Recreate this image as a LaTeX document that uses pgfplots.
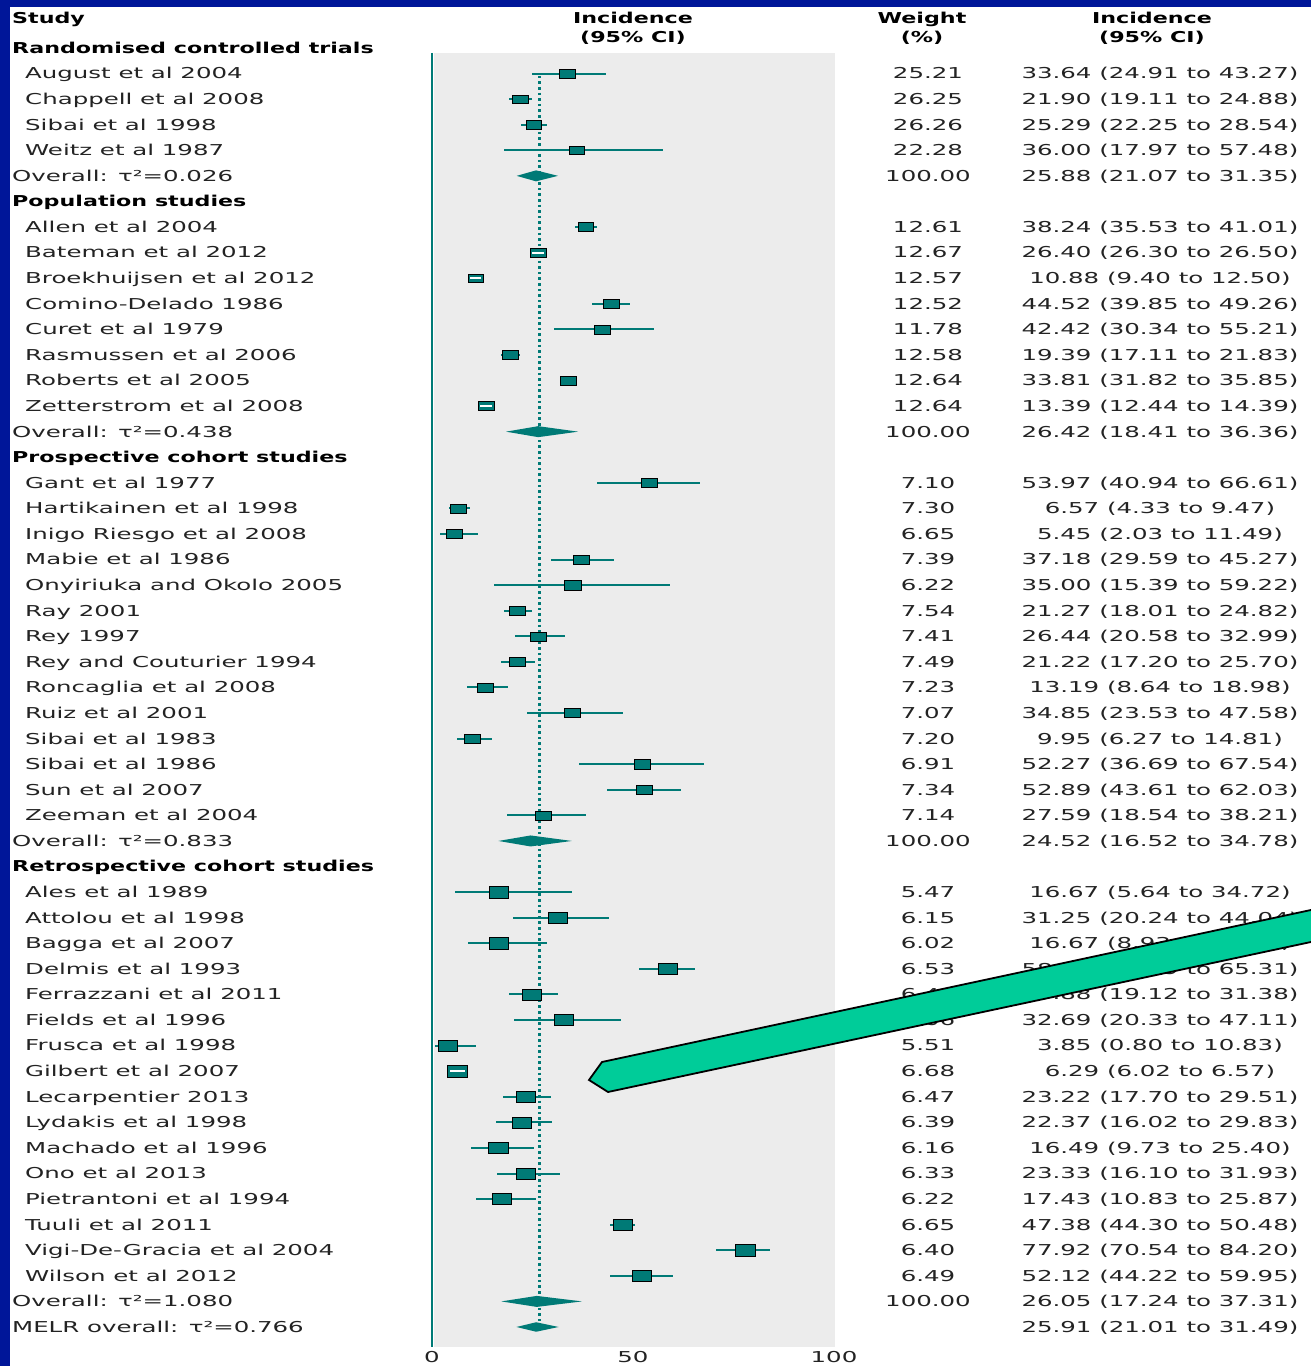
\documentclass[border=0pt]{standalone}
\usepackage{pgfplots}
\pgfplotsset{compat=1.18}
\usepackage{pgfplotstable}
\usepackage{fontspec}
\setmainfont{DejaVu Sans}[FakeStretch=1.63]
\newfontfamily\bodyfont{DejaVu Sans}[FakeStretch=1.63]
\newfontfamily\headfont{DejaVu Sans Bold}[FakeStretch=1.48]
\newcommand{\fs}{\fontsize{15bp}{18bp}\selectfont}
\definecolor{tealc}{RGB}{0,122,118}
\definecolor{bgblue}{RGB}{0,22,153}
\definecolor{plotgray}{RGB}{236,236,236}
\definecolor{arrowgreen}{RGB}{0,204,153}
\definecolor{txt}{RGB}{35,35,35}

% row index (negative), estimate, lower and upper 95% CI
\pgfplotstableread{
y est lo hi
-1 33.64 24.91 43.27
-2 21.90 19.11 24.88
-3 25.29 22.25 28.54
-4 36.00 17.97 57.48
}\rct
\pgfplotstableread{
y est lo hi
-7 38.24 35.53 41.01
-8 26.40 26.30 26.50
-9 10.88 9.40 12.50
-10 44.52 39.85 49.26
-11 42.42 30.34 55.21
-12 19.39 17.11 21.83
-13 33.81 31.82 35.85
-14 13.39 12.44 14.39
}\pop
\pgfplotstableread{
y est lo hi
-17 53.97 40.94 66.61
-18 6.57 4.33 9.47
-19 5.45 2.03 11.49
-20 37.18 29.59 45.27
-21 35.00 15.39 59.22
-22 21.27 18.01 24.82
-23 26.44 20.58 32.99
-24 21.22 17.20 25.70
-25 13.19 8.64 18.98
-26 34.85 23.53 47.58
-27 9.95 6.27 14.81
-28 52.27 36.69 67.54
-29 52.89 43.61 62.03
-30 27.59 18.54 38.21
}\pro
\pgfplotstableread{
y est lo hi
-33 16.67 5.64 34.72
-34 31.25 20.24 44.04
-35 16.67 8.93 28.56
-36 58.62 51.59 65.31
-37 24.88 19.12 31.38
-38 32.69 20.33 47.11
-39 3.85 0.80 10.83
-40 6.29 6.02 6.57
-41 23.22 17.70 29.51
-42 22.37 16.02 29.83
-43 16.49 9.73 25.40
-44 23.33 16.10 31.93
-45 17.43 10.83 25.87
-46 47.38 44.30 50.48
-47 77.92 70.54 84.20
-48 52.12 44.22 59.95
}\ret
\pgfplotstableread{
y est
-8 26.40
-9 10.88
-14 13.39
}\narrowpop
\pgfplotstableread{
y est
-40 6.29
}\narrowret

\newcommand{\srow}[4]{%
\node[anchor=base west,font=\bodyfont\fs,text=txt,inner sep=0pt] at (axis cs:-101.24,{-#1-0.21}) {#2};
\node[anchor=base,font=\bodyfont\fs,text=txt,inner sep=0pt] at (axis cs:123.38,{-#1-0.21}) {#3};
\node[anchor=base,font=\bodyfont\fs,text=txt,inner sep=0pt] at (axis cs:181.09,{-#1-0.21}) {#4};}
\newcommand{\orow}[4]{%
\node[anchor=base west,font=\bodyfont\fs,text=txt,inner sep=0pt] at (axis cs:-104.48,{-#1-0.21}) {#2};
\node[anchor=base,font=\bodyfont\fs,text=txt,inner sep=0pt] at (axis cs:123.38,{-#1-0.21}) {#3};
\node[anchor=base,font=\bodyfont\fs,text=txt,inner sep=0pt] at (axis cs:181.09,{-#1-0.21}) {#4};}
\newcommand{\ghead}[2]{%
\node[anchor=base west,font=\headfont\fs,text=black,inner sep=0pt] at (axis cs:-104.48,{-#1-0.21}) {#2};}

\begin{document}
\begin{tikzpicture}[x=1bp,y=1bp]
\useasboundingbox (0,0) rectangle (1311,1366);
\fill[bgblue] (0,0) rectangle (1311,1366);
\fill[white] (10,0) rectangle (1311,1359);
\begin{axis}[
  at={(0,0)}, anchor=south west,
  scale only axis, width=1311bp, height=1366bp,
  xmin=-107.46, xmax=218.66, ymin=-51.525, ymax=1.8765,
  axis x line=bottom, axis y line=none,
  x axis line style={draw=none},
  xtick={0,50,100}, ytick=\empty,
  major tick length=0pt, xtick style={draw=none},
  xticklabel style={font=\bodyfont\fs, text=txt, anchor=base, yshift=3bp, inner sep=0pt},
  /pgf/number format/assume math mode=true,
  clip=false,
  every error bar/.append style={line width=2bp},
]
% grey panel and reference lines
\fill[plotgray] (axis cs:0.4,-0.195) rectangle (axis cs:100.2,-50.78);
\addplot[tealc, line width=2.4bp, forget plot] coordinates {(0,-0.195) (0,-50.78)};
\addplot[tealc, line width=2.8bp, dash pattern=on 2.6bp off 3bp, forget plot] coordinates {(26.7,-1.09) (26.7,-49.75)};

% confidence intervals
\pgfplotsset{cistyle/.style={only marks, mark=none, forget plot, line width=2bp,
  error bars/.cd, x dir=both, x explicit, error mark=none,
  error bar style={draw=tealc, line width=2bp, solid}}}
\addplot[cistyle] table[x=est, y=y, x error plus expr=\thisrow{hi}-\thisrow{est}, x error minus expr=\thisrow{est}-\thisrow{lo}] {\rct};
\addplot[cistyle] table[x=est, y=y, x error plus expr=\thisrow{hi}-\thisrow{est}, x error minus expr=\thisrow{est}-\thisrow{lo}] {\pop};
\addplot[cistyle] table[x=est, y=y, x error plus expr=\thisrow{hi}-\thisrow{est}, x error minus expr=\thisrow{est}-\thisrow{lo}] {\pro};
\addplot[cistyle] table[x=est, y=y, x error plus expr=\thisrow{hi}-\thisrow{est}, x error minus expr=\thisrow{est}-\thisrow{lo}] {\ret};

% weight boxes
\addplot[only marks, mark=square*, mark size=4.3bp, mark options={xscale=1.8, fill=tealc, draw=none}, forget plot] table[x=est, y=y] {\rct};
\addplot[only marks, mark=square*, mark size=4.4bp, mark options={xscale=1.8, fill=tealc, draw=none}, forget plot] table[x=est, y=y] {\pop};
\addplot[only marks, mark=square*, mark size=4.6bp, mark options={xscale=1.75, fill=tealc, draw=none}, forget plot] table[x=est, y=y] {\pro};
\addplot[only marks, mark=square*, mark size=5.6bp, mark options={xscale=1.72, fill=tealc, draw=none}, forget plot] table[x=est, y=y] {\ret};
\addplot[only marks, mark=-, mark size=3.2bp, mark options={xscale=1.8, draw=white, line width=2bp}, forget plot] table[x=est, y=y] {\narrowpop};
\addplot[only marks, mark=-, mark size=4.2bp, mark options={xscale=1.72, draw=white, line width=2.2bp}, forget plot] table[x=est, y=y] {\narrowret};

% pooled diamonds
\addplot[fill=tealc, draw=none, forget plot] coordinates {(21.07,-5) (25.88,-4.785) (31.35,-5) (25.88,-5.215)} --cycle;
\addplot[fill=tealc, draw=none, forget plot] coordinates {(18.41,-15) (26.42,-14.785) (36.36,-15) (26.42,-15.215)} --cycle;
\addplot[fill=tealc, draw=none, forget plot] coordinates {(16.52,-31) (24.52,-30.785) (34.78,-31) (24.52,-31.215)} --cycle;
\addplot[fill=tealc, draw=none, forget plot] coordinates {(17.24,-49) (26.05,-48.785) (37.31,-49) (26.05,-49.215)} --cycle;
\addplot[fill=tealc, draw=none, forget plot] coordinates {(21.01,-50) (25.91,-49.814) (31.49,-50) (25.91,-50.186)} --cycle;

% column headers
\node[anchor=base west,font=\headfont\fs,inner sep=0pt] at (axis cs:-104.48,0.938) {Study};
\node[anchor=base,font=\headfont\fs,inner sep=0pt] at (axis cs:50,0.938) {Incidence};
\node[anchor=base,font=\headfont\fs,inner sep=0pt] at (axis cs:50,0.21) {(95\% CI)};
\node[anchor=base,font=\headfont\fs,inner sep=0pt] at (axis cs:121.9,0.938) {Weight};
\node[anchor=base,font=\headfont\fs,inner sep=0pt] at (axis cs:121.9,0.21) {(\%)};
\node[anchor=base,font=\headfont\fs,inner sep=0pt] at (axis cs:179.1,0.938) {Incidence};
\node[anchor=base,font=\headfont\fs,inner sep=0pt] at (axis cs:179.1,0.21) {(95\% CI)};

\ghead{0}{Randomised controlled trials}
\srow{1}{August et al 2004}{25.21}{33.64 (24.91 to 43.27)}
\srow{2}{Chappell et al 2008}{26.25}{21.90 (19.11 to 24.88)}
\srow{3}{Sibai et al 1998}{26.26}{25.29 (22.25 to 28.54)}
\srow{4}{Weitz et al 1987}{22.28}{36.00 (17.97 to 57.48)}
\orow{5}{Overall: τ²=0.026}{100.00}{25.88 (21.07 to 31.35)}
\ghead{6}{Population studies}
\srow{7}{Allen et al 2004}{12.61}{38.24 (35.53 to 41.01)}
\srow{8}{Bateman et al 2012}{12.67}{26.40 (26.30 to 26.50)}
\srow{9}{Broekhuijsen et al 2012}{12.57}{10.88 (9.40 to 12.50)}
\srow{10}{Comino-Delado 1986}{12.52}{44.52 (39.85 to 49.26)}
\srow{11}{Curet et al 1979}{11.78}{42.42 (30.34 to 55.21)}
\srow{12}{Rasmussen et al 2006}{12.58}{19.39 (17.11 to 21.83)}
\srow{13}{Roberts et al 2005}{12.64}{33.81 (31.82 to 35.85)}
\srow{14}{Zetterstrom et al 2008}{12.64}{13.39 (12.44 to 14.39)}
\orow{15}{Overall: τ²=0.438}{100.00}{26.42 (18.41 to 36.36)}
\ghead{16}{Prospective cohort studies}
\srow{17}{Gant et al 1977}{7.10}{53.97 (40.94 to 66.61)}
\srow{18}{Hartikainen et al 1998}{7.30}{6.57 (4.33 to 9.47)}
\srow{19}{Inigo Riesgo et al 2008}{6.65}{5.45 (2.03 to 11.49)}
\srow{20}{Mabie et al 1986}{7.39}{37.18 (29.59 to 45.27)}
\srow{21}{Onyiriuka and Okolo 2005}{6.22}{35.00 (15.39 to 59.22)}
\srow{22}{Ray 2001}{7.54}{21.27 (18.01 to 24.82)}
\srow{23}{Rey 1997}{7.41}{26.44 (20.58 to 32.99)}
\srow{24}{Rey and Couturier 1994}{7.49}{21.22 (17.20 to 25.70)}
\srow{25}{Roncaglia et al 2008}{7.23}{13.19 (8.64 to 18.98)}
\srow{26}{Ruiz et al 2001}{7.07}{34.85 (23.53 to 47.58)}
\srow{27}{Sibai et al 1983}{7.20}{9.95 (6.27 to 14.81)}
\srow{28}{Sibai et al 1986}{6.91}{52.27 (36.69 to 67.54)}
\srow{29}{Sun et al 2007}{7.34}{52.89 (43.61 to 62.03)}
\srow{30}{Zeeman et al 2004}{7.14}{27.59 (18.54 to 38.21)}
\orow{31}{Overall: τ²=0.833}{100.00}{24.52 (16.52 to 34.78)}
\ghead{32}{Retrospective cohort studies}
\srow{33}{Ales et al 1989}{5.47}{16.67 (5.64 to 34.72)}
\srow{34}{Attolou et al 1998}{6.15}{31.25 (20.24 to 44.04)}
\srow{35}{Bagga et al 2007}{6.02}{16.67 (8.93 to 28.56)}
\srow{36}{Delmis et al 1993}{6.53}{58.62 (51.59 to 65.31)}
\srow{37}{Ferrazzani et al 2011}{6.41}{24.88 (19.12 to 31.38)}
\srow{38}{Fields et al 1996}{6.06}{32.69 (20.33 to 47.11)}
\srow{39}{Frusca et al 1998}{5.51}{3.85 (0.80 to 10.83)}
\srow{40}{Gilbert et al 2007}{6.68}{6.29 (6.02 to 6.57)}
\srow{41}{Lecarpentier 2013}{6.47}{23.22 (17.70 to 29.51)}
\srow{42}{Lydakis et al 1998}{6.39}{22.37 (16.02 to 29.83)}
\srow{43}{Machado et al 1996}{6.16}{16.49 (9.73 to 25.40)}
\srow{44}{Ono et al 2013}{6.33}{23.33 (16.10 to 31.93)}
\srow{45}{Pietrantoni et al 1994}{6.22}{17.43 (10.83 to 25.87)}
\srow{46}{Tuuli et al 2011}{6.65}{47.38 (44.30 to 50.48)}
\srow{47}{Vigi-De-Gracia et al 2004}{6.40}{77.92 (70.54 to 84.20)}
\srow{48}{Wilson et al 2012}{6.49}{52.12 (44.22 to 59.95)}
\orow{49}{Overall: τ²=1.080}{100.00}{26.05 (17.24 to 37.31)}
\orow{50}{MELR overall: τ²=0.766}{}{25.91 (21.01 to 31.49)}
\end{axis}
% callout arrow (annotation)
\begin{scope}
\clip (0,0) rectangle (1311,1366);
\draw[overlay, fill=arrowgreen, draw=black, line width=1.8bp, line join=miter]
  (589,286) -- (602,304) -- (1400,475.1) -- (1400,443.0) -- (608,274) -- cycle;
\end{scope}
\end{tikzpicture}
\end{document}
